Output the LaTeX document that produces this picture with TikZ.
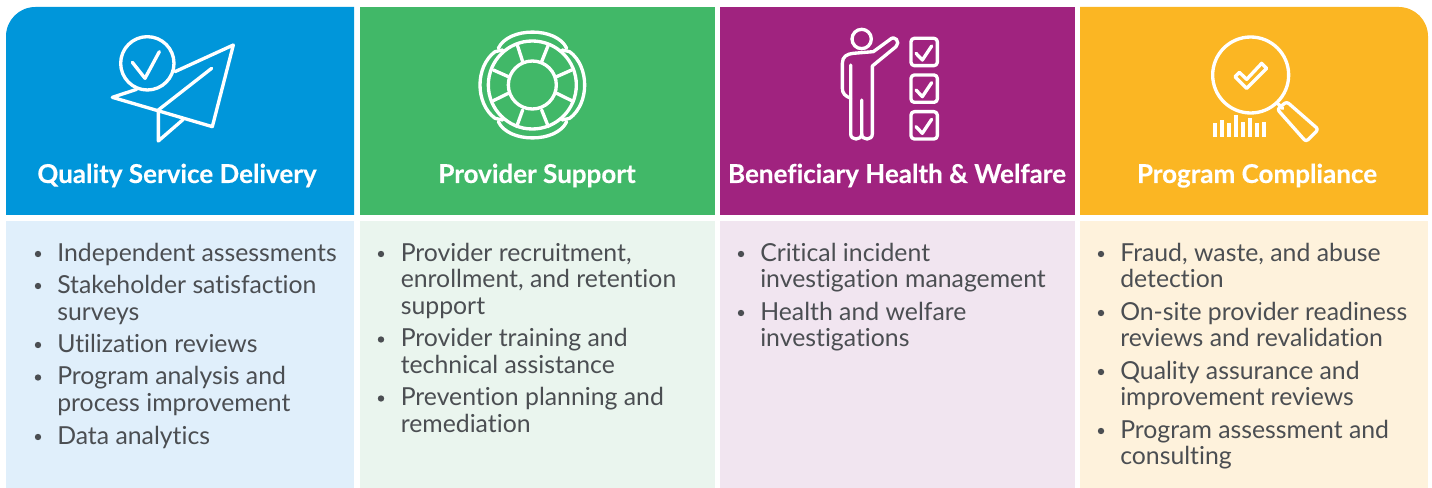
\documentclass[tikz,border=0pt]{standalone}
\usepackage{fontspec}
\setmainfont{Lato}[Ligatures={NoCommon},BoldFeatures={FakeBold=0.25}]
\definecolor{bluehead}{HTML}{0096DA}
\definecolor{greenhead}{HTML}{41B868}
\definecolor{purplehead}{HTML}{A0237F}
\definecolor{yellowhead}{HTML}{FBB623}
\definecolor{bluebody}{HTML}{E0EFFB}
\definecolor{greenbody}{HTML}{EAF5EE}
\definecolor{purplebody}{HTML}{F1E5F0}
\definecolor{yellowbody}{HTML}{FEF2DC}
\definecolor{bodytext}{HTML}{4B4E52}
\tikzset{
  bodyline/.style={anchor=base west,inner sep=0pt,text=bodytext,font=\fontsize{18.6pt}{20pt}\selectfont},
  headline/.style={anchor=base,inner sep=0pt,text=white,font=\fontsize{19.5pt}{22pt}\selectfont\bfseries},
  icon/.style={draw=white,line width=2.5pt,line cap=round,line join=round},
  zoomed/.style={x=0.25pt,y=-0.25pt},
}
\newcommand{\bodytxt}[4]{\node[bodyline] (#1) at (#2,#3+0.7) {#4};}
\newcommand{\blt}[2]{\fill[bodytext] (#1,#2) circle[radius=3.2];}
\begin{document}
\begin{tikzpicture}[x=0.75pt,y=-0.75pt]
\useasboundingbox (0,0) rectangle (1432,488);
% panels
\fill[bluehead] (6,215) {[rounded corners=22pt] -- (6,7)} -- (354,7) -- (354,215) -- cycle;
\fill[greenhead] (360,7) rectangle (715,215);
\fill[purplehead] (720,7) rectangle (1075,215);
\fill[yellowhead] (1428,215) {[rounded corners=22pt] -- (1428,7)} -- (1080,7) -- (1080,215) -- cycle;
\fill[bluebody] (6,221) rectangle (354,488);
\fill[greenbody] (360,221) rectangle (715,488);
\fill[purplebody] (720,221) rectangle (1075,488);
\fill[yellowbody] (1080,221) rectangle (1428,488);
% headings
\node[headline] (h1) at (177,183) {Quality Service Delivery};
\node[headline] (h2) at (537,183) {Provider Support};
\node[headline] (h3) at (897,183) {Beneficiary Health \& Welfare};
\node[headline] (h4) at (1257,183) {Program Compliance};
% column 1
\blt{38}{254}\bodytxt{a1}{57}{261}{Independent assessments}
\blt{38}{286}\bodytxt{a2}{57}{293}{Stakeholder satisfaction}
\bodytxt{a3}{57}{319.5}{surveys}
\blt{38}{345}\bodytxt{a4}{57}{352}{Utilization reviews}
\blt{38}{377.5}\bodytxt{a5}{57}{384}{Program analysis and}
\bodytxt{a6}{57}{410.5}{process improvement}
\blt{38}{437}\bodytxt{a7}{57}{443.5}{Data analytics}
% column 2
\blt{381}{254}\bodytxt{b1}{400.5}{260.5}{Provider recruitment,}
\bodytxt{b2}{400.5}{287}{enrollment, and retention}
\bodytxt{b3}{400.5}{313.5}{support}
\blt{381}{339.5}\bodytxt{b4}{400.5}{346}{Provider training and}
\bodytxt{b5}{400.5}{372.5}{technical assistance}
\blt{381}{398.5}\bodytxt{b6}{400.5}{405}{Prevention planning and}
\bodytxt{b7}{400.5}{431.5}{remediation}
% column 3
\blt{741}{254}\bodytxt{c1}{760}{260.5}{Critical incident}
\bodytxt{c2}{760}{287}{investigation management}
\blt{741}{313}\bodytxt{c3}{760}{319.5}{Health and welfare}
\bodytxt{c4}{760}{346}{investigations}
% column 4
\blt{1101}{254}\bodytxt{d1}{1120}{260.5}{Fraud, waste, and abuse}
\bodytxt{d2}{1120}{287}{detection}
\blt{1101}{313}\bodytxt{d3}{1120}{319.5}{On-site provider readiness}
\bodytxt{d4}{1120}{346}{reviews and revalidation}
\blt{1101}{372}\bodytxt{d5}{1120}{378.5}{Quality assurance and}
\bodytxt{d6}{1120}{405}{improvement reviews}
\blt{1101}{431}\bodytxt{d7}{1120}{437.5}{Program assessment and}
\bodytxt{d8}{1120}{464}{consulting}
% paper plane
\begin{scope}[shift={(0,0)},zoomed]
\draw[icon] (442,190) circle[radius=80];
\draw[icon] (397,187) -- (435,235) -- (478,155);
\draw[icon] (525,215) -- (700,135) -- (637,380) -- (337,292) -- (410,268);
\draw[icon] (635,205) -- (475,330) -- (475,423) -- (550,358);
\end{scope}
% lifebuoy
\begin{scope}[shift={(440,10)},zoomed]
\draw[icon] (277,225) circle[radius=72];
\draw[icon] (277,225) circle[radius=132];
\draw[icon] (175,115) .. controls (205,50) and (350,50) .. (380,115);
\draw[icon] (175,335) .. controls (205,400) and (350,400) .. (380,335);
\draw[icon] (165,125) .. controls (105,170) and (105,280) .. (165,325);
\draw[icon] (389,125) .. controls (449,170) and (449,280) .. (389,325);
\draw[icon] (232,105) -- (248,155);
\draw[icon] (325,105) -- (305,155);
\draw[icon] (350,200) -- (395,180);
\draw[icon] (350,250) -- (395,272);
\draw[icon] (305,300) -- (325,350);
\draw[icon] (248,300) -- (230,350);
\draw[icon] (205,250) -- (160,272);
\draw[icon] (205,200) -- (160,180);
\draw[icon] (165,125) -- (188,120);
\draw[icon] (389,125) -- (366,120);
\draw[icon] (165,325) -- (188,330);
\draw[icon] (389,325) -- (366,330);
\end{scope}
% person with checklist
\begin{scope}[shift={(810,10)},zoomed]
\draw[icon] (155,87) circle[radius=29];
\draw[icon] (122,165) -- (122,372) .. controls (122,392) and (155,392) .. (155,372) -- (155,270);
\draw[icon] (155,372) .. controls (155,392) and (187,392) .. (187,372) -- (187,168) -- (258,110)
  .. controls (272,97) and (255,72) .. (238,90) -- (190,125) -- (130,130)
  .. controls (110,132) and (97,140) .. (97,160) -- (97,235) .. controls (97,250) and (105,258) .. (122,265);
\foreach \y in {0,110,220}{
  \draw[icon,rounded corners=2.5pt] (303,85+\y) rectangle (382,167+\y);
  \draw[icon] (318,130+\y) -- (337,150+\y) -- (365,108+\y);
}
\end{scope}
% magnifier
\begin{scope}[shift={(1180,0)},zoomed]
\draw[icon] (212,225) circle[radius=114];
\draw[icon] (165,230) -- (178,217) -- (200,238) -- (245,190) -- (260,205) -- (200,265) -- cycle;
\draw[icon] (295,312) -- (308,325);
\draw[icon,rounded corners=2pt] (292,328) -- (320,305) -- (415,388) -- (378,425) -- cycle;
\foreach \bx/\bt in {105/370,126/360,147/368,168/345,189/365,210/355,231/370,252/365}
  \fill[white] (\bx-5,\bt) rectangle (\bx+5,410);
\end{scope}
\end{tikzpicture}
\end{document}
